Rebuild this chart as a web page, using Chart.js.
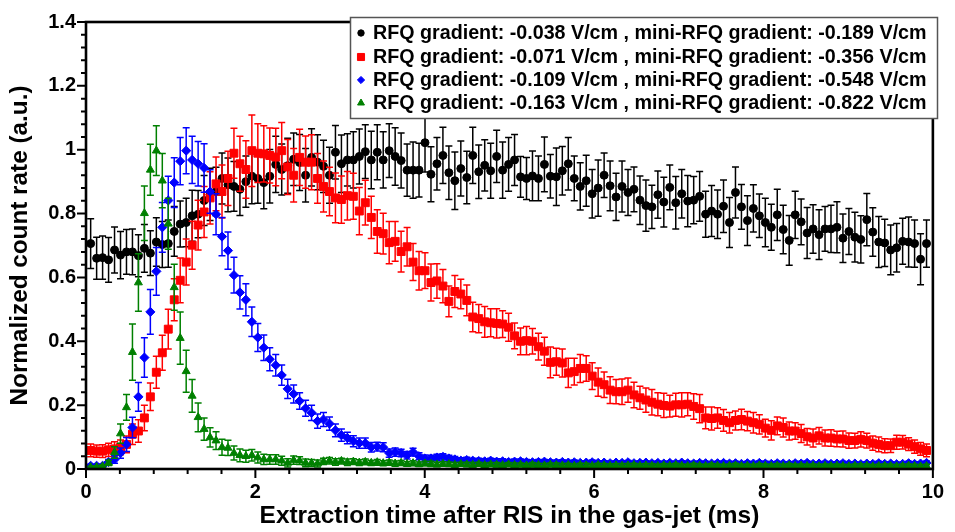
<!DOCTYPE html>
<html>
<head>
<meta charset="utf-8">
<script src="https://cdn.jsdelivr.net/npm/chart.js@4.4.1/dist/chart.umd.min.js"></script>
<style>
  html, body { margin: 0; padding: 0; background: #fff; }
  #wrap { width: 955px; height: 532px; }
</style>
</head>
<body>
<div id="wrap"><canvas id="myChart" width="955" height="532"></canvas></div>
<script>
// time bins (ms)
const binStart = 0.055;
const binWidth = 0.0705;

// legend texts
const rfqGradients = ['-0.038', '-0.071', '-0.109', '-0.163'];
const miniRfqGradients = ['-0.189', '-0.356', '-0.548', '-0.822'];

// axis ticks
const xMajorTicks = [0, 2, 4, 6, 8, 10];
const yMajorTicks = [0, 0.2, 0.4, 0.6, 0.8, 1, 1.2, 1.4];
const xMinorStep = 0.4;
const yMinorStep = 0.04;

// black circles
const blackRate = [
  0.706,0.660,0.662,0.655,0.686,0.670,0.680,0.680,0.668,0.691,
  0.676,0.711,0.703,0.706,0.744,0.767,0.772,0.793,0.798,0.841,
  0.860,0.869,0.910,0.890,0.885,0.876,0.900,0.917,0.910,0.897,
  0.917,0.954,0.938,0.950,0.970,0.960,0.920,0.976,0.961,0.948,
  0.920,0.992,0.956,0.968,0.968,0.979,0.994,0.968,0.992,0.968,
  0.997,0.979,0.966,0.936,0.936,0.936,1.022,0.923,0.956,0.982,
  0.928,0.903,0.941,0.913,0.982,0.931,0.951,0.934,0.979,0.936,
  0.954,0.968,0.915,0.910,0.918,0.910,0.954,0.917,0.915,0.934,
  0.956,0.910,0.885,0.903,0.862,0.880,0.920,0.887,0.852,0.885,
  0.866,0.876,0.842,0.825,0.821,0.859,0.836,0.882,0.834,0.862,
  0.839,0.842,0.854,0.798,0.808,0.798,0.823,0.772,0.866,0.821,
  0.778,0.816,0.793,0.772,0.757,0.796,0.750,0.716,0.796,0.774,
  0.739,0.752,0.734,0.752,0.752,0.757,0.723,0.744,0.726,0.719,
  0.781,0.742,0.711,0.708,0.686,0.693,0.713,0.711,0.706,0.657,
  0.706
];
const blackErr = [
  0.078,0.066,0.068,0.070,0.072,0.074,0.070,0.072,0.066,0.075,
  0.070,0.076,0.072,0.074,0.078,0.072,0.076,0.080,0.074,0.078,
  0.082,0.076,0.080,0.084,0.078,0.082,0.080,0.086,0.078,0.082,
  0.084,0.088,0.080,0.086,0.082,0.088,0.084,0.090,0.086,0.082,
  0.088,0.084,0.090,0.082,0.088,0.086,0.084,0.090,0.086,0.088,
  0.084,0.090,0.086,0.082,0.088,0.084,0.092,0.086,0.082,0.088,
  0.084,0.090,0.086,0.082,0.088,0.084,0.080,0.086,0.082,0.088,
  0.084,0.080,0.064,0.066,0.078,0.070,0.086,0.068,0.090,0.076,
  0.082,0.070,0.074,0.080,0.076,0.088,0.070,0.078,0.074,0.080,
  0.072,0.070,0.076,0.080,0.068,0.074,0.078,0.070,0.082,0.076,
  0.080,0.074,0.078,0.072,0.080,0.076,0.082,0.078,0.080,0.070,
  0.078,0.074,0.068,0.076,0.072,0.080,0.076,0.078,0.074,0.072,
  0.080,0.076,0.078,0.070,0.074,0.080,0.076,0.072,0.078,0.074,
  0.082,0.076,0.080,0.074,0.078,0.076,0.072,0.078,0.074,0.080,
  0.074
];

// red squares
const redRate = [
  0.058,0.056,0.056,0.060,0.063,0.068,0.077,0.109,0.119,0.160,
  0.226,0.303,0.364,0.438,0.530,0.591,0.648,0.701,0.764,0.805,
  0.849,0.893,0.869,0.910,0.989,0.956,0.938,0.997,0.989,0.987,
  0.982,0.977,0.997,0.946,0.920,0.976,0.961,0.961,0.910,0.885,
  0.869,0.849,0.844,0.856,0.854,0.808,0.834,0.788,0.744,0.737,
  0.709,0.713,0.681,0.696,0.648,0.621,0.621,0.584,0.589,0.573,
  0.525,0.556,0.548,0.528,0.476,0.471,0.461,0.458,0.456,0.454,
  0.444,0.417,0.400,0.402,0.400,0.383,0.369,0.334,0.336,0.332,
  0.301,0.305,0.315,0.315,0.291,0.272,0.264,0.247,0.242,0.242,
  0.247,0.232,0.223,0.216,0.209,0.203,0.199,0.197,0.201,0.201,
  0.203,0.196,0.189,0.160,0.158,0.160,0.152,0.145,0.152,0.155,
  0.150,0.145,0.140,0.128,0.121,0.135,0.130,0.119,0.119,0.111,
  0.101,0.097,0.104,0.097,0.097,0.094,0.094,0.089,0.089,0.093,
  0.089,0.081,0.077,0.073,0.073,0.084,0.084,0.078,0.070,0.063,
  0.058
];
const redErr = [
  0.020,0.019,0.020,0.021,0.022,0.023,0.026,0.032,0.035,0.040,
  0.043,0.050,0.055,0.062,0.066,0.070,0.072,0.075,0.078,0.080,
  0.082,0.084,0.083,0.085,0.078,0.086,0.090,0.112,0.092,0.088,
  0.086,0.090,0.088,0.086,0.084,0.088,0.082,0.086,0.078,0.080,
  0.076,0.078,0.074,0.076,0.072,0.074,0.070,0.066,0.068,0.064,
  0.066,0.062,0.064,0.060,0.058,0.060,0.056,0.058,0.054,0.052,
  0.048,0.050,0.046,0.048,0.046,0.044,0.048,0.044,0.046,0.042,
  0.044,0.040,0.042,0.044,0.040,0.042,0.044,0.048,0.042,0.044,
  0.046,0.042,0.044,0.040,0.042,0.044,0.040,0.042,0.038,0.040,
  0.038,0.040,0.036,0.038,0.040,0.036,0.038,0.034,0.036,0.038,
  0.036,0.040,0.044,0.034,0.036,0.032,0.034,0.032,0.030,0.032,
  0.030,0.032,0.030,0.028,0.030,0.028,0.030,0.028,0.026,0.028,
  0.026,0.028,0.026,0.025,0.026,0.024,0.025,0.024,0.023,0.024,
  0.023,0.022,0.023,0.022,0.021,0.022,0.021,0.020,0.021,0.020,
  0.020
];

// blue diamonds
const blueRate = [
  0.010,0.010,0.010,0.022,0.030,0.050,0.077,0.130,0.226,0.349,
  0.492,0.619,0.757,0.841,0.897,0.964,0.997,0.968,0.956,0.943,
  0.869,0.798,0.728,0.684,0.607,0.553,0.530,0.461,0.412,0.380,
  0.344,0.325,0.294,0.251,0.235,0.213,0.190,0.176,0.150,0.155,
  0.142,0.121,0.106,0.097,0.087,0.081,0.081,0.068,0.070,0.068,
  0.050,0.053,0.050,0.043,0.053,0.040,0.033,0.033,0.036,0.038,
  0.033,0.030,0.026,0.028,0.026,0.025,0.024,0.026,0.023,0.024,
  0.022,0.023,0.024,0.022,0.021,0.022,0.023,0.021,0.020,0.022,
  0.020,0.021,0.019,0.020,0.021,0.019,0.020,0.018,0.020,0.019,
  0.021,0.018,0.019,0.020,0.018,0.019,0.017,0.019,0.018,0.020,
  0.018,0.017,0.019,0.018,0.017,0.018,0.019,0.017,0.018,0.016,
  0.018,0.017,0.019,0.017,0.016,0.018,0.017,0.016,0.018,0.017,
  0.019,0.016,0.017,0.018,0.016,0.017,0.018,0.016,0.017,0.015,
  0.017,0.016,0.018,0.016,0.017,0.015,0.016,0.018,0.016,0.017,
  0.019
];
const blueErr = [
  0.005,0.005,0.006,0.008,0.012,0.016,0.022,0.032,0.045,0.062,
  0.070,0.075,0.078,0.076,0.078,0.074,0.072,0.074,0.070,0.076,
  0.068,0.064,0.060,0.058,0.056,0.052,0.050,0.046,0.044,0.040,
  0.036,0.034,0.032,0.030,0.028,0.026,0.025,0.024,0.022,0.022,
  0.021,0.020,0.019,0.018,0.017,0.016,0.016,0.015,0.014,0.014,
  0.013,0.013,0.012,0.012,0.012,0.011,0.011,0.010,0.010,0.010,
  0.010,0.009,0.009,0.009,0.008,0.009,0.008,0.008,0.009,0.008,
  0.008,0.008,0.007,0.008,0.007,0.008,0.007,0.007,0.008,0.007,
  0.007,0.007,0.007,0.006,0.007,0.007,0.006,0.007,0.006,0.007,
  0.006,0.006,0.007,0.006,0.006,0.006,0.007,0.006,0.006,0.006,
  0.006,0.007,0.006,0.006,0.006,0.006,0.006,0.007,0.006,0.006,
  0.006,0.006,0.006,0.007,0.006,0.006,0.006,0.006,0.006,0.007,
  0.006,0.006,0.006,0.006,0.007,0.006,0.006,0.006,0.006,0.006,
  0.006,0.007,0.006,0.006,0.006,0.006,0.006,0.006,0.007,0.006,
  0.006
];

// green triangles
const greenRate = [
  0.005,0.006,0.008,0.019,0.052,0.111,0.193,0.366,0.584,0.801,
  0.937,0.997,0.903,0.768,0.569,0.410,0.306,0.229,0.162,0.125,
  0.099,0.089,0.068,0.066,0.050,0.043,0.040,0.043,0.036,0.030,
  0.030,0.030,0.026,0.019,0.028,0.026,0.019,0.019,0.017,0.024,
  0.026,0.022,0.025,0.021,0.023,0.020,0.022,0.019,0.021,0.018,
  0.020,0.017,0.019,0.016,0.018,0.015,0.017,0.016,0.014,0.016,
  0.015,0.013,0.015,0.014,0.013,0.015,0.012,0.014,0.013,0.012,
  0.014,0.012,0.013,0.011,0.013,0.012,0.011,0.013,0.012,0.011,
  0.012,0.010,0.012,0.011,0.010,0.012,0.011,0.010,0.011,0.010,
  0.011,0.012,0.010,0.011,0.010,0.009,0.011,0.010,0.012,0.010,
  0.009,0.011,0.010,0.009,0.011,0.010,0.009,0.010,0.011,0.009,
  0.010,0.009,0.011,0.010,0.009,0.010,0.009,0.011,0.009,0.010,
  0.009,0.010,0.008,0.010,0.009,0.010,0.009,0.008,0.010,0.009,
  0.010,0.008,0.009,0.010,0.009,0.008,0.009,0.010,0.009,0.008,
  0.009
];
const greenErr = [
  0.004,0.004,0.005,0.008,0.018,0.030,0.040,0.088,0.090,0.085,
  0.080,0.078,0.085,0.080,0.072,0.082,0.066,0.051,0.045,0.035,
  0.030,0.028,0.025,0.024,0.022,0.020,0.019,0.018,0.017,0.016,
  0.015,0.015,0.014,0.013,0.013,0.012,0.012,0.011,0.011,0.010,
  0.010,0.010,0.009,0.010,0.009,0.009,0.009,0.008,0.009,0.008,
  0.008,0.008,0.008,0.007,0.008,0.007,0.007,0.008,0.007,0.007,
  0.007,0.007,0.006,0.007,0.007,0.006,0.007,0.006,0.007,0.006,
  0.006,0.007,0.006,0.006,0.007,0.006,0.006,0.006,0.007,0.006,
  0.006,0.006,0.006,0.007,0.006,0.006,0.006,0.006,0.006,0.007,
  0.006,0.006,0.006,0.006,0.007,0.006,0.006,0.006,0.006,0.006,
  0.006,0.007,0.006,0.006,0.006,0.006,0.006,0.006,0.007,0.006,
  0.006,0.006,0.006,0.006,0.006,0.007,0.006,0.006,0.006,0.006,
  0.006,0.006,0.007,0.006,0.006,0.006,0.006,0.006,0.006,0.007,
  0.006,0.006,0.006,0.006,0.006,0.006,0.007,0.006,0.006,0.006,
  0.006
];

const FONT = '"Liberation Sans", Arial, Helvetica, sans-serif';
const GREEN = 'rgb(0,128,0)';
const X_TITLE = 'Extraction time after RIS in the gas-jet (ms)';
const Y_TITLE = 'Normalized count rate (a.u.)';

// 把數值和時間組成 {x, y}
function toPoints(rates) {
  return rates.map((v, i) => ({ x: +(binStart + binWidth * i).toFixed(4), y: v }));
}

// 依目標寬度算字體大小
function fitFontSize(text, targetWidth) {
  const c = document.createElement('canvas').getContext('2d');
  c.font = 'bold 20px ' + FONT;
  return 20 * targetWidth / c.measureText(text).width;
}

const seriesStyles = [
  { color: '#000000', style: 'circle', radius: 4, legendRadius: 3.2, rate: blackRate, err: blackErr },
  { color: '#ff0000', style: 'rect', radius: 5.6, legendRadius: 5, rate: redRate, err: redErr },
  { color: '#0000ff', style: 'rectRot', radius: 4.6, legendRadius: 3.6, rate: blueRate, err: blueErr },
  { color: GREEN, style: 'triangle', radius: 4.6, legendRadius: 4, rate: greenRate, err: greenErr }
];

const datasets = seriesStyles.map((s, k) => ({
  label: 'RFQ gradient: ' + rfqGradients[k] + ' V/cm , mini-RFQ gradient: ' + miniRfqGradients[k] + ' V/cm',
  data: toPoints(s.rate),
  errors: s.err,
  pointStyle: s.style,
  pointRadius: s.radius,
  backgroundColor: s.color,
  borderColor: s.color,
  borderWidth: 1,
  showLine: false,
  order: 4 - k  // 後面的資料畫在上面
}));

// 誤差線，跟每組資料一起畫
const errorBarPlugin = {
  id: 'errorBars',
  beforeDatasetDraw(chart, args) {
    const ds = chart.data.datasets[args.index];
    if (!ds.errors) return;
    const ctx = chart.ctx;
    const yScale = chart.scales.y;
    const a = chart.chartArea;
    ctx.save();
    ctx.beginPath();
    ctx.rect(a.left, a.top, a.right - a.left, a.bottom - a.top);
    ctx.clip();
    ctx.strokeStyle = ds.borderColor;
    ctx.lineWidth = 1.5;
    ctx.beginPath();
    args.meta.data.forEach((pt, i) => {
      const v = ds.data[i].y;
      const e = ds.errors[i];
      const yTop = yScale.getPixelForValue(v + e);
      const yBot = yScale.getPixelForValue(v - e);
      ctx.moveTo(pt.x, yTop); ctx.lineTo(pt.x, yBot);
      ctx.moveTo(pt.x - 3.5, yTop); ctx.lineTo(pt.x + 3.5, yTop);
      ctx.moveTo(pt.x - 3.5, yBot); ctx.lineTo(pt.x + 3.5, yBot);
    });
    ctx.stroke();
    ctx.restore();
  }
};

// 外框 + 主/副刻度
const framePlugin = {
  id: 'frameTicks',
  afterDatasetsDraw(chart) {
    const { ctx, chartArea: a, scales: { x, y } } = chart;
    ctx.save();
    ctx.strokeStyle = '#000';
    ctx.lineWidth = 2;
    ctx.beginPath();
    const xMax = xMajorTicks[xMajorTicks.length - 1];
    for (let k = 0; k * xMinorStep <= xMax + 1e-9; k++) {
      const px = x.getPixelForValue(k * xMinorStep);
      const len = (k % 5 === 0) ? 9 : 5;
      ctx.moveTo(px, a.bottom); ctx.lineTo(px, a.bottom + len);
    }
    const yMax = yMajorTicks[yMajorTicks.length - 1];
    for (let k = 0; k * yMinorStep <= yMax + 1e-9; k++) {
      const py = y.getPixelForValue(k * yMinorStep);
      const len = (k % 5 === 0) ? 9 : 5;
      ctx.moveTo(a.left, py); ctx.lineTo(a.left - len, py);
    }
    ctx.stroke();
    ctx.lineWidth = 2.6;
    ctx.strokeRect(a.left, a.top, a.right - a.left, a.bottom - a.top);
    ctx.restore();
  }
};

// 圖例框
const legendPlugin = {
  id: 'legendBox',
  afterDraw(chart) {
    const ctx = chart.ctx;
    const boxL = 350, boxT = 17, boxR = 937, boxB = 118;
    ctx.save();
    ctx.fillStyle = '#fff';
    ctx.fillRect(boxL, boxT, boxR - boxL, boxB - boxT);
    ctx.strokeStyle = '#555';
    ctx.lineWidth = 1.5;
    ctx.strokeRect(boxL + 0.5, boxT + 0.5, boxR - boxL, boxB - boxT);

    // 字體大小依寬度調整
    const size = fitFontSize(chart.data.datasets[0].label, 554);
    ctx.font = 'bold ' + size.toFixed(2) + 'px ' + FONT;
    ctx.textBaseline = 'middle';
    ctx.textAlign = 'left';
    const rows = [33, 57, 80, 103];
    chart.data.datasets.forEach((ds, k) => {
      const s = seriesStyles[k];
      ctx.fillStyle = s.color;
      ctx.strokeStyle = s.color;
      ctx.lineWidth = 1;
      Chart.helpers.drawPoint(ctx, { pointStyle: s.style, radius: s.legendRadius, borderWidth: 1 }, 361, rows[k]);
      ctx.fillStyle = '#000';
      ctx.fillText(ds.label, 373, rows[k] + 1);
    });
    ctx.restore();
  }
};

const tickFont = { family: FONT, size: 20, weight: 'bold' };
const xTitleSize = fitFontSize(X_TITLE, 500);
const yTitleSize = fitFontSize(Y_TITLE, 320);

const ctx = document.getElementById('myChart').getContext('2d');
const myChart = new Chart(ctx, {
  type: 'scatter',
  data: { datasets: datasets },
  options: {
    responsive: false,
    animation: false,
    layout: { padding: { top: 13, right: 15, left: 0, bottom: 0 } },
    plugins: {
      legend: { display: false },
      tooltip: { enabled: false }
    },
    scales: {
      x: {
        type: 'linear',
        min: xMajorTicks[0],
        max: xMajorTicks[xMajorTicks.length - 1],
        afterBuildTicks: s => { s.ticks = xMajorTicks.map(v => ({ value: v })); },
        afterFit: s => { s.height = 63; },
        grid: { display: false, drawTicks: false },
        border: { display: false },
        ticks: { color: '#000', font: tickFont, padding: 11, maxRotation: 0, callback: v => String(v) },
        title: {
          display: true,
          text: X_TITLE,
          color: '#000',
          font: { family: FONT, size: xTitleSize, weight: 'bold', lineHeight: 1.2 },
          padding: { top: 0, bottom: 1 }
        }
      },
      y: {
        type: 'linear',
        min: yMajorTicks[0],
        max: yMajorTicks[yMajorTicks.length - 1],
        afterBuildTicks: s => { s.ticks = yMajorTicks.map(v => ({ value: v })); },
        afterFit: s => { s.width = 86; },
        grid: { display: false, drawTicks: false },
        border: { display: false },
        ticks: { color: '#000', font: tickFont, padding: 10, callback: v => String(v) },
        title: {
          display: true,
          text: Y_TITLE,
          color: '#000',
          font: { family: FONT, size: yTitleSize, weight: 'bold', lineHeight: 1.2 },
          padding: { top: 6, bottom: 0 }
        }
      }
    }
  },
  plugins: [errorBarPlugin, framePlugin, legendPlugin]
});
</script>
</body>
</html>
